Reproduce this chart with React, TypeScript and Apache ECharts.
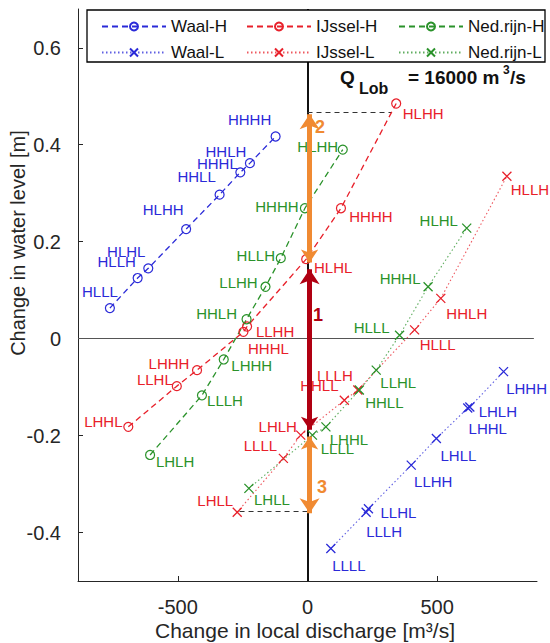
import React, { useEffect, useRef } from "react";
import * as echarts from "echarts";

// ---- data ----
const xTicks = [-500, 0, 500];
const yTicks = [-0.4, -0.2, 0, 0.2, 0.4, 0.6];

const waalHNames = ["HLLL", "HLLH", "HLHL", "HLHH", "HHLL", "HHHL", "HHLH", "HHHH"];
const waalHX = [-762, -655, -614, -468, -339, -259, -222, -123];
const waalHY = [0.063, 0.125, 0.145, 0.226, 0.297, 0.343, 0.362, 0.417];

const waalLNames = ["LLLL", "LLLH", "LLHL", "LLHH", "LHLL", "LHHL", "LHLH", "LHHH"];
const waalLX = [90, 226, 235, 400, 497, 618, 626, 756];
const waalLY = [-0.433, -0.358, -0.351, -0.261, -0.206, -0.143, -0.141, -0.068];

const ijsselHNames = ["LHHL", "LLHL", "LHHH", "HHHL", "LLHH", "HLHL", "HHHH", "HLHH"];
const ijsselHX = [-691, -504, -426, -247, -233, -5, 129, 342];
const ijsselHY = [-0.182, -0.098, -0.065, 0.014, 0.025, 0.164, 0.269, 0.485];

const ijsselLNames = ["LHLL", "LLLL", "LHLH", "HHLL", "LLLH", "HLLL", "HHLH", "HLLH"];
const ijsselLX = [-271, -93, -26, 142, 194, 413, 514, 769];
const ijsselLY = [-0.358, -0.247, -0.199, -0.127, -0.106, 0.018, 0.083, 0.335];

const nedHNames = ["LHLH", "LLLH", "LHHH", "HHLH", "LLHH", "HLLH", "HHHH", "HLHH"];
const nedHX = [-607, -407, -323, -235, -162, -103, -10, 136];
const nedHY = [-0.24, -0.117, -0.043, 0.04, 0.107, 0.166, 0.269, 0.39];

const nedLNames = ["LHLL", "LLLL", "LHHL", "HHLL", "LLHL", "HLLL", "HHHL", "HLHL"];
const nedLX = [-226, 19, 71, 200, 265, 355, 465, 614];
const nedLY = [-0.309, -0.199, -0.182, -0.106, -0.065, 0.007, 0.107, 0.228];

// arrows and helper lines (x, y pairs in data units)
const arrow1 = [[8, -0.188], [8, 0.143]];
const arrow2 = [[8, 0.157], [8, 0.463]];
const arrow3 = [[8, -0.202], [8, -0.36]];
const helperTop = [[0, 0.466], [323, 0.466]];
const helperBottom = [[-262, -0.357], [0, -0.357]];

// ---- label placement (style, not data) ----
const waalHOff = [[-10, -17], [-21, -17], [-22, -17], [-23, -20], [-23, -18], [-23, -9], [-24, -12], [-26, -17]];
const waalLOff = [[18, 17], [18, 19], [30, 4], [22, 16], [22, 17], [20, 21], [28, 5], [23, 17]];
const ijsselHOff = [[-25, -5], [-22, -7], [-28, -7], [25, 17], [28, 5], [27, 8], [30, 8], [27, 10]];
const ijsselLOff = [[-22, -12], [-23, -13], [-23, -9], [-25, -15], [-23, -15], [23, 15], [26, 15], [23, 13]];
const nedHOff = [[25, 7], [23, 5], [28, 6], [-30, -6], [-27, -4], [-25, -3], [-28, -2], [-25, -3]];
const nedLOff = [[23, 11], [25, 13], [23, 13], [25, 12], [22, 12], [-28, -8], [-28, -8], [-28, -8]];

const BLUE = "#2a2ad8";
const RED = "#e8202a";
const GREEN = "#2a922a";
const DARKRED = "#b00012";
const ORANGE = "#f08a32";
const FONT = "Liberation Sans, Arial, sans-serif";
const CROSS = "path://M0 0L10 10M10 0L0 10";

function makeSeries(
  name: string,
  names: string[],
  xs: number[],
  ys: number[],
  offs: number[][],
  color: string,
  high: boolean
) {
  return {
    name,
    type: "line",
    z: 2,
    symbol: high ? "circle" : CROSS,
    symbolSize: 9,
    lineStyle: high
      ? { color, width: 1.3, type: [6, 4] }
      : { color, width: 1.1, type: [1.5, 2.5], opacity: 0.75 },
    itemStyle: high
      ? { color: "rgba(0,0,0,0)", borderColor: color, borderWidth: 1.2 }
      : { color, borderColor: color, borderWidth: 1.3 },
    data: names.map((n, i) => ({
      value: [xs[i], ys[i]],
      name: n,
      label: {
        show: true,
        position: "inside",
        offset: offs[i],
        formatter: n,
        color,
        fontSize: 15,
        fontFamily: FONT,
        align: "center",
        verticalAlign: "middle",
      },
    })),
  };
}

function arrowSeries(coords: number[][], color: string) {
  return {
    type: "lines",
    coordinateSystem: "cartesian2d",
    z: 6,
    symbol: ["arrow", "arrow"],
    symbolSize: [13, 15],
    lineStyle: { color, width: 5, opacity: 1, curveness: 0 },
    data: [{ coords }],
  };
}

const legendCommon = {
  orient: "vertical",
  top: 13,
  itemGap: 9,
  itemWidth: 64,
  itemHeight: 10,
  z: 10,
  textStyle: { fontSize: 17, color: "#111", fontFamily: FONT },
};

export default function App() {
  const ref = useRef<HTMLDivElement>(null);
  useEffect(() => {
    if (!ref.current) return;
    const chart = echarts.init(ref.current, undefined, { renderer: "svg" });
    const option: any = {
      animation: false,
      backgroundColor: "#fff",
      grid: { left: 78, right: 13, top: 9, bottom: 62 },
      xAxis: {
        type: "value",
        min: -885,
        max: 885,
        axisLine: { show: true, onZero: false, lineStyle: { color: "#262626", width: 1 } },
        axisTick: { show: true, inside: true, length: 5, customValues: xTicks, lineStyle: { color: "#262626" } },
        axisLabel: { customValues: xTicks, fontSize: 20, color: "#262626", fontFamily: FONT, margin: 16 },
        splitLine: { show: false },
      },
      yAxis: {
        type: "value",
        min: -0.5,
        max: 0.68,
        axisLine: { show: true, onZero: false, lineStyle: { color: "#262626", width: 1 } },
        axisTick: { show: true, inside: true, length: 5, customValues: yTicks, lineStyle: { color: "#262626" } },
        axisLabel: { customValues: yTicks, fontSize: 20, color: "#262626", fontFamily: FONT, margin: 17 },
        splitLine: { show: false },
      },
      legend: [
        { ...legendCommon, left: 96, data: ["Waal-H", "Waal-L"] },
        { ...legendCommon, left: 241, data: ["IJssel-H", "IJssel-L"] },
        { ...legendCommon, left: 393, data: ["Ned.rijn-H", "Ned.rijn-L"] },
      ],
      graphic: [
        {
          type: "rect",
          z: 8,
          shape: { x: 87, y: 10, width: 458, height: 52 },
          style: { fill: "#fff", stroke: "#000", lineWidth: 1.3 },
        },
        { type: "text", z: 9, x: 340, y: 77, style: { text: "Q", font: `bold 19px ${FONT}`, fill: "#111", textVerticalAlign: "middle" } },
        { type: "text", z: 9, x: 359, y: 88, style: { text: "Lob", font: `bold 16px ${FONT}`, fill: "#111", textVerticalAlign: "middle" } },
        { type: "text", z: 9, x: 408, y: 77, style: { text: "= 16000 m", font: `bold 19px ${FONT}`, fill: "#111", textVerticalAlign: "middle" } },
        { type: "text", z: 9, x: 503, y: 70, style: { text: "3", font: `bold 12px ${FONT}`, fill: "#111", textVerticalAlign: "middle" } },
        { type: "text", z: 9, x: 510, y: 77, style: { text: "/s", font: `bold 19px ${FONT}`, fill: "#111", textVerticalAlign: "middle" } },
        { type: "text", z: 9, x: 320, y: 127, style: { text: "2", font: `bold 18px ${FONT}`, fill: ORANGE, textAlign: "center", textVerticalAlign: "middle" } },
        { type: "text", z: 9, x: 318, y: 315, style: { text: "1", font: `bold 18px ${FONT}`, fill: DARKRED, textAlign: "center", textVerticalAlign: "middle" } },
        { type: "text", z: 9, x: 322, y: 487, style: { text: "3", font: `bold 18px ${FONT}`, fill: ORANGE, textAlign: "center", textVerticalAlign: "middle" } },
        {
          type: "text",
          z: 9,
          x: 305,
          y: 630,
          style: { text: "Change in local discharge [m³/s]", font: `21px ${FONT}`, fill: "#262626", textAlign: "center", textVerticalAlign: "middle" },
        },
        {
          type: "text",
          z: 9,
          x: 18,
          y: 243,
          rotation: Math.PI / 2,
          style: { text: "Change in water level [m]", font: `20px ${FONT}`, fill: "#262626", textAlign: "center", textVerticalAlign: "middle" },
        },
      ],
      series: [
        {
          type: "lines",
          coordinateSystem: "cartesian2d",
          z: 1,
          symbol: "none",
          lineStyle: { color: "#111", width: 2, opacity: 1 },
          data: [{ coords: [[0, -0.5], [0, 0.68]] }],
        },
        {
          type: "lines",
          coordinateSystem: "cartesian2d",
          z: 1,
          symbol: "none",
          lineStyle: { color: "#555", width: 1, opacity: 1 },
          data: [{ coords: [[-885, 0], [873, 0]] }],
        },
        {
          type: "lines",
          coordinateSystem: "cartesian2d",
          z: 1,
          symbol: "none",
          lineStyle: { color: "#333", width: 1, opacity: 1, type: [5, 4] },
          data: [{ coords: helperTop }, { coords: helperBottom }],
        },
        makeSeries("Waal-H", waalHNames, waalHX, waalHY, waalHOff, BLUE, true),
        makeSeries("IJssel-H", ijsselHNames, ijsselHX, ijsselHY, ijsselHOff, RED, true),
        makeSeries("Ned.rijn-H", nedHNames, nedHX, nedHY, nedHOff, GREEN, true),
        makeSeries("Waal-L", waalLNames, waalLX, waalLY, waalLOff, BLUE, false),
        makeSeries("IJssel-L", ijsselLNames, ijsselLX, ijsselLY, ijsselLOff, RED, false),
        makeSeries("Ned.rijn-L", nedLNames, nedLX, nedLY, nedLOff, GREEN, false),
        arrowSeries(arrow2, ORANGE),
        arrowSeries(arrow3, ORANGE),
        arrowSeries(arrow1, DARKRED),
      ],
    };
    chart.setOption(option);
    return () => chart.dispose();
  }, []);
  return <div ref={ref} style={{ width: 550, height: 643, position: "absolute", left: 0, top: 0 }} />;
}
